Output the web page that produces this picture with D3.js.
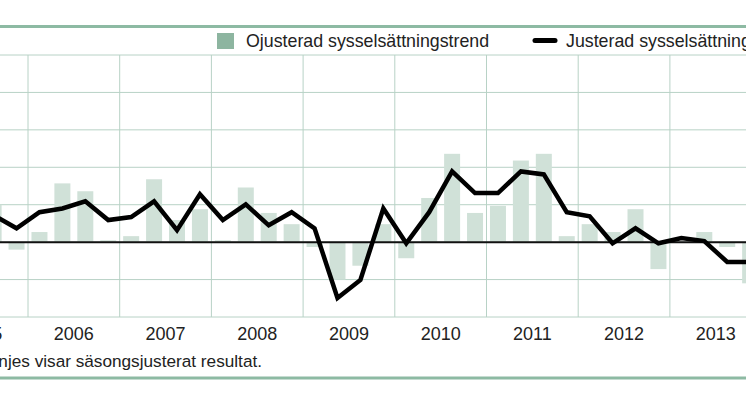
<!DOCTYPE html>
<html><head><meta charset="utf-8">
<script src="https://cdn.jsdelivr.net/npm/d3@7"></script>
<style>body{margin:0;background:#fff}svg{display:block;font-family:"Liberation Sans",Arial,sans-serif}</style>
</head><body>
<script>
// quarters from 2005 Q3 to 2013 Q4
const quarters = d3.range(34).map(i => 2005.5 + i * 0.25);
const unadjusted = [1.0, -0.2,
  0.27, 1.57, 1.36, 0.05,
  0.16, 1.68, 0.59, 0.88,
  0.05, 1.46, 0.78, 0.48,
  -0.13, -1.0, -0.63, 0.48,
  -0.43, 1.18, 2.36, 0.78,
  0.97, 2.18, 2.36, 0.16,
  0.48, 0.27, 0.88, -0.72,
  0.0, 0.27, -0.13, -1.1];
const adjusted = [0.72, 0.37,
  0.8, 0.9, 1.09, 0.59,
  0.67, 1.09, 0.32, 1.28,
  0.59, 1.01, 0.45, 0.8,
  0.37, -1.49, -1.01, 0.9,
  -0.03, 0.8, 1.89, 1.31,
  1.31, 1.89, 1.81, 0.8,
  0.69, -0.03, 0.37, -0.03,
  0.11, 0.03, -0.53, -0.53];
const years = d3.range(2005, 2014);
const yTicks = d3.range(-2, 6);

const width = 746, height = 419;
const svg = d3.select("body").append("svg").attr("width", width).attr("height", height);

const x = d3.scaleLinear().domain([2006, 2014]).range([28, 761.6]);
const y = d3.scaleLinear().domain([-2, 5]).range([317, 55]);
const barW = 16;

// grid
svg.append("g").selectAll("line").data(yTicks).join("line")
  .attr("x1", 0).attr("x2", width).attr("y1", d => y(d)).attr("y2", d => y(d))
  .attr("stroke", "#b8d2c6").attr("stroke-width", 1);
svg.append("g").selectAll("line").data(d3.range(2006, 2014)).join("line")
  .attr("x1", d => x(d)).attr("x2", d => x(d)).attr("y1", y(5)).attr("y2", y(-2))
  .attr("stroke", "#b8d2c6").attr("stroke-width", 1);

// bars
svg.append("g").selectAll("rect").data(unadjusted).join("rect")
  .attr("x", (d, i) => x(quarters[i] + 0.125) - barW / 2)
  .attr("width", barW)
  .attr("y", d => y(Math.max(0, d)))
  .attr("height", d => Math.abs(y(d) - y(0)))
  .attr("fill", "#d0e1d8");

// zero line
svg.append("line").attr("x1", 0).attr("x2", width).attr("y1", y(0)).attr("y2", y(0))
  .attr("stroke", "#111").attr("stroke-width", 2);

// trend line
svg.append("path").datum(adjusted)
  .attr("d", d3.line().x((d, i) => x(quarters[i] + 0.125)).y(d => y(d)))
  .attr("fill", "none").attr("stroke", "#000").attr("stroke-width", 4.5)
  .attr("stroke-linejoin", "miter");

// year labels
svg.append("g").selectAll("text").data(years).join("text")
  .attr("x", d => x(d + 0.5)).attr("y", 340).attr("text-anchor", "middle")
  .attr("font-size", 18).attr("fill", "#222").text(d => d);

// borders
svg.append("line").attr("x1", 0).attr("x2", width).attr("y1", 26.5).attr("y2", 26.5)
  .attr("stroke", "#8dbaa3").attr("stroke-width", 3);
svg.append("line").attr("x1", 0).attr("x2", width).attr("y1", 378).attr("y2", 378)
  .attr("stroke", "#8dbaa3").attr("stroke-width", 3);

// legend
svg.append("rect").attr("x", 217).attr("y", 33).attr("width", 17).attr("height", 16).attr("fill", "#8db5a0");
svg.append("text").attr("x", 246).attr("y", 47).attr("font-size", 17.8).attr("fill", "#222")
  .text("Ojusterad sysselsättningstrend");
svg.append("line").attr("x1", 535).attr("x2", 555).attr("y1", 40.5).attr("y2", 40.5)
  .attr("stroke", "#000").attr("stroke-width", 5).attr("stroke-linecap", "round");
svg.append("text").attr("x", 566).attr("y", 47).attr("font-size", 17.8).attr("fill", "#222")
  .text("Justerad sysselsättningstrend");

// note
svg.append("text").attr("x", 262).attr("y", 367).attr("text-anchor", "end")
  .attr("font-size", 17.2).attr("fill", "#222")
  .text("Linjes visar säsongsjusterat resultat.");
</script>
</body></html>
